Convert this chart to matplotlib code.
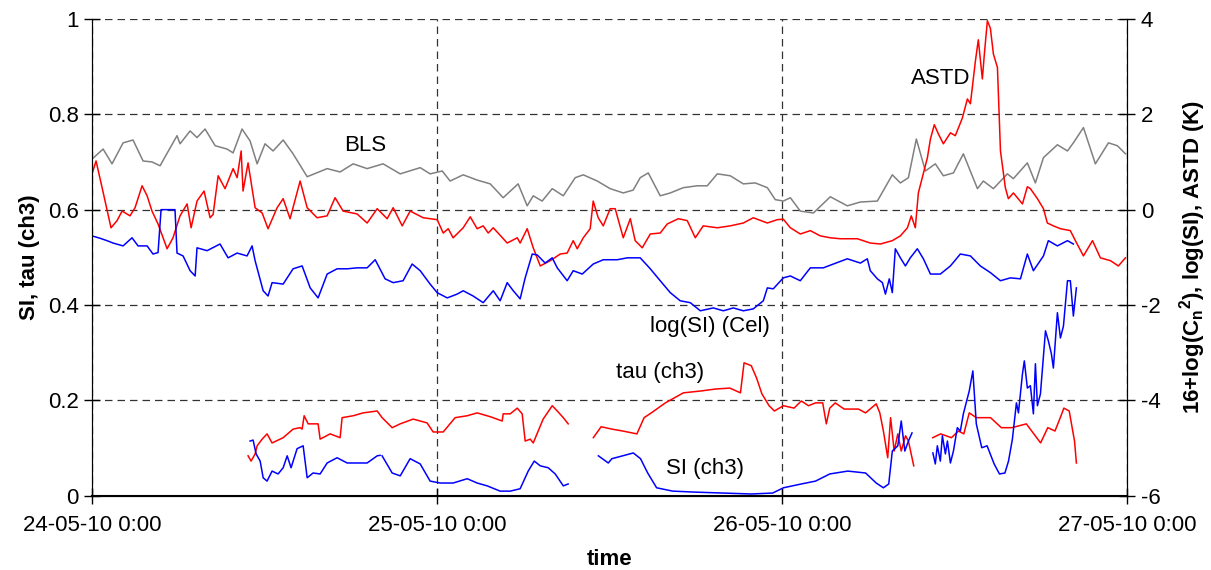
import numpy as np
import matplotlib
matplotlib.use("Agg")
import matplotlib.pyplot as plt

plt.rcParams.update({
    "font.family": ["Liberation Sans", "DejaVu Sans"],
    "font.size": 16,
    "mathtext.fontset": "custom",
    "mathtext.rm": "Liberation Sans",
    "mathtext.bf": "Liberation Sans:bold",
    "axes.unicode_minus": False,
})

nan = np.nan

# hours since 24-05-10 0:00
bls_h = [0.0, 0.77, 1.39, 2.16, 2.85, 3.55, 4.17, 4.73, 5.91, 6.12, 6.82, 7.30, 7.86, 8.56, 9.39, 9.81,
         10.43, 10.99, 11.48, 12.03, 12.59, 13.29, 13.98, 14.96, 16.35, 17.25, 18.16, 19.13, 20.24, 21.43,
         22.82, 23.51, 24.35, 24.90, 25.81, 26.78, 27.69, 28.59, 29.63, 30.26, 30.68, 31.30, 32.00, 32.77,
         33.60, 34.16, 35.13, 36.03, 36.94, 37.63, 38.12, 38.68, 39.51, 40.21, 41.11, 42.09, 42.78, 43.48,
         44.38, 45.29, 46.12, 46.96, 47.51, 48.07, 48.56, 49.25, 50.16, 51.34, 52.52, 53.43, 54.61, 55.65,
         56.21, 56.77, 57.32, 57.95, 58.64, 59.20, 59.90, 60.59, 61.57, 61.98, 62.68, 63.65, 64.07, 65.04,
         65.60, 66.16, 67.13, 67.83, 68.24, 68.94, 69.77, 70.68, 71.30, 71.86]
bls = [1.06, 1.27, 0.96, 1.40, 1.46, 1.02, 1.00, 0.92, 1.55, 1.38, 1.65, 1.51, 1.69, 1.34, 1.27, 1.19,
       1.69, 1.44, 0.96, 1.38, 1.23, 1.46, 1.17, 0.69, 0.86, 0.79, 0.96, 0.86, 0.96, 0.75,
       0.88, 0.75, 0.81, 0.60, 0.73, 0.62, 0.54, 0.25, 0.54, 0.08, 0.29, 0.18, 0.44, 0.29,
       0.67, 0.73, 0.60, 0.44, 0.35, 0.41, 0.67, 0.77, 0.29, 0.35, 0.46, 0.50, 0.50, 0.75,
       0.71, 0.54, 0.56, 0.46, 0.21, 0.18, 0.25, -0.03, -0.07, 0.27, 0.08, 0.16, 0.18, 0.73,
       0.56, 0.67, 1.48, 0.81, 0.96, 0.71, 0.77, 1.17, 0.44, 0.60, 0.44, 0.75, 0.65, 0.98,
       0.56, 1.09, 1.36, 1.23, 1.40, 1.72, 0.96, 1.40, 1.34, 1.17]

astd_h = [0.0, 0.28, 0.70, 1.32, 1.74, 2.09, 2.64, 2.99, 3.48, 3.83, 4.17, 4.59, 5.22, 5.63, 6.12, 6.61,
          6.89, 7.30, 7.79, 8.21, 8.42, 8.77, 9.25, 9.81, 10.09, 10.37, 10.50, 10.85, 11.34, 11.83, 12.24,
          12.87, 13.29, 13.77, 14.47, 14.96, 15.65, 16.35, 16.90, 17.46, 18.43, 19.13, 19.83, 20.52, 20.94,
          21.57, 22.12, 23.03, 23.51, 24.00, 24.42, 24.77, 25.11, 25.81, 26.30, 26.78, 27.20, 27.55, 27.90,
          28.87, 29.57, 29.77, 30.26, 30.68, 31.17, 31.86, 32.56, 33.04, 33.46, 33.74, 34.16, 34.64, 34.85,
          35.20, 35.55, 36.03, 36.38, 36.94, 37.43, 37.77, 38.26, 38.82, 39.51, 40.00, 40.77, 41.39, 41.95,
          42.50, 43.48, 44.38, 45.29, 45.98, 46.96, 47.65, 48.07, 48.56, 49.25, 49.95, 50.64, 51.34, 52.03,
          53.22, 54.12, 54.82, 55.65, 56.21, 56.70, 56.97, 57.25, 57.46, 58.09, 58.30, 58.57, 58.85, 59.20,
          59.69, 60.03, 60.52, 60.87, 61.08, 61.43, 61.63, 61.91, 62.05, 62.26, 62.47, 62.68, 62.96, 63.17,
          63.51, 63.72, 64.07, 64.70, 65.04, 65.25, 65.74, 66.16, 66.43, 66.85, 67.34, 68.03, 68.38, 68.94,
          69.57, 70.12, 70.82, 71.37, 71.86]
astd = [0.75, 1.02, 0.46, -0.38, -0.23, -0.03, -0.13, 0.04, 0.50, 0.29, -0.03, -0.30, -0.82, -0.59, -0.13, 0.12,
        -0.38, 0.18, 0.39, -0.17, -0.10, 0.71, 0.44, 0.86, 0.67, 1.23, 0.39, 0.98, 0.04, -0.07, -0.40,
        0.04, 0.23, -0.19, 0.60, 0.04, -0.17, -0.13, 0.25, -0.03, -0.09, -0.28, 0.02, -0.19, 0.04,
        -0.34, -0.03, -0.17, -0.19, -0.21, -0.49, -0.40, -0.59, -0.38, -0.15, -0.40, -0.34, -0.49, -0.38,
        -0.70, -0.59, -0.70, -0.40, -0.80, -1.18, -1.07, -0.93, -0.91, -0.65, -0.82, -0.59, -0.40, 0.18,
        -0.17, -0.34, 0.02, 0.02, -0.59, -0.19, -0.65, -0.80, -0.51, -0.49, -0.30, -0.19, -0.23, -0.59,
        -0.34, -0.38, -0.34, -0.28, -0.17, -0.28, -0.21, -0.20, -0.38, -0.51, -0.44, -0.55, -0.59, -0.61,
        -0.61, -0.70, -0.72, -0.65, -0.55, -0.38, -0.13, -0.38, 0.35, 1.09, 1.48, 1.78, 1.59, 1.38,
        1.61, 1.55, 1.92, 2.32, 2.22, 3.12, 3.56, 2.74, 3.26, 3.96, 3.80, 3.26, 2.98, 1.23,
        0.46, 0.23, 0.35, 0.12, 0.48, 0.44, 0.23, 0.02, -0.28, -0.34, -0.40, -0.44, -0.65, -0.97,
        -0.65, -1.01, -1.07, -1.18, -1.01]

logsi_h = [0.0, 0.56, 1.04, 1.46, 2.16, 2.78, 3.20, 3.83, 4.24, 4.59, 4.80, 5.77, 5.91, 6.33, 6.82, 7.17,
           7.30, 8.00, 8.90, 9.46, 10.09, 10.78, 11.13, 11.34, 11.90, 12.24, 12.52, 13.29, 13.98, 14.61,
           15.17, 15.72, 16.35, 17.04, 17.74, 18.43, 19.13, 19.69, 20.38, 20.94, 21.63, 22.26, 22.82, 23.51,
           24.00, 24.70, 25.39, 25.81, 26.50, 27.20, 27.90, 28.38, 28.87, 29.29, 29.77, 30.12, 30.61, 30.96,
           31.51, 32.00, 32.35, 33.04, 33.46, 34.09, 34.85, 35.55, 36.52, 37.22, 38.12, 38.82, 39.51, 40.21,
           40.90, 41.60, 42.30, 43.20, 43.90, 44.59, 45.29, 45.98, 46.68, 46.96, 47.37, 48.07, 48.56, 49.25,
           49.95, 50.85, 51.55, 52.52, 53.43, 53.91, 54.12, 54.61, 54.96, 55.17, 55.44, 55.65, 55.86, 56.21,
           56.56, 56.90, 57.39, 57.81, 58.30, 58.99, 59.69, 60.38, 61.08, 61.77, 62.47, 63.17, 63.86, 64.56,
           65.04, 65.46, 66.16, 66.50, 67.13, 67.83, 68.24]
logsi = [-0.55, -0.60, -0.65, -0.70, -0.76, -0.59, -0.76, -0.76, -0.93, -0.90, 0.0, 0.0, -0.91, -0.97, -1.28, -1.39,
         -0.80, -0.86, -0.72, -1.01, -0.91, -0.97, -0.76, -1.07, -1.70, -1.81, -1.53, -1.56, -1.24, -1.18,
         -1.64, -1.85, -1.35, -1.24, -1.24, -1.22, -1.22, -1.05, -1.45, -1.53, -1.49, -1.14, -1.28, -1.56,
         -1.74, -1.85, -1.77, -1.70, -1.81, -1.95, -1.70, -1.91, -1.53, -1.70, -1.87, -1.43, -0.93, -0.95,
         -1.12, -1.01, -1.22, -1.49, -1.28, -1.35, -1.14, -1.05, -1.05, -1.01, -1.01, -1.24, -1.49, -1.74,
         -1.91, -1.95, -2.12, -2.06, -2.12, -2.06, -2.12, -2.08, -1.91, -1.64, -1.66, -1.43, -1.39, -1.49,
         -1.22, -1.22, -1.14, -1.03, -1.12, -1.03, -1.28, -1.45, -1.53, -1.77, -1.45, -1.74, -0.82, -1.01,
         -1.18, -1.01, -0.82, -1.03, -1.35, -1.35, -1.18, -0.93, -0.97, -1.18, -1.32, -1.49, -1.43, -1.45,
         -0.93, -1.28, -0.97, -0.65, -0.76, -0.65, -0.72]

tau_h = [10.85, 11.06, 11.34, 11.48, 11.83, 12.17, 12.52, 13.29, 13.98, 14.47, 14.61, 14.75, 15.03, 15.72,
         15.86, 16.56, 17.25, 17.39, 18.16, 18.85, 19.83, 20.17, 20.87, 21.43, 22.33, 23.30, 23.72, 24.42,
         25.25, 26.09, 26.78, 27.69, 28.52, 28.59, 29.08, 29.57, 29.91, 30.12, 30.47, 30.68, 31.37, 32.00,
         32.35, 32.77, 33.11, 34.0,
         34.86, 35.40, 36.15, 36.90, 37.89, 38.39, 38.89, 39.87, 41.12, 42.36, 43.35, 44.35, 45.09, 45.34,
         45.84, 46.21, 46.58, 47.08, 47.45, 48.08, 48.82, 49.32, 49.82, 50.31, 50.81, 51.06, 51.30, 51.68,
         52.30, 53.29, 53.79, 54.53, 54.78, 55.03, 55.33, 55.53, 55.78, 56.03, 56.27, 56.57, 56.77, 57.14,
         57.8,
         58.46, 59.01, 59.76, 60.25, 60.62, 61.00, 61.49, 62.48, 63.23, 63.97, 64.97, 65.96, 66.46, 66.96,
         67.33, 67.58, 67.95, 68.32, 68.45]
tau = [0.084, 0.073, 0.088, 0.105, 0.119, 0.130, 0.111, 0.122, 0.140, 0.143, 0.140, 0.168, 0.151, 0.151,
       0.119, 0.130, 0.122, 0.164, 0.168, 0.174, 0.178, 0.164, 0.143, 0.151, 0.161, 0.153, 0.134, 0.134,
       0.164, 0.168, 0.174, 0.166, 0.157, 0.172, 0.172, 0.184, 0.172, 0.115, 0.119, 0.111, 0.161, 0.189,
       0.178, 0.164, 0.151, nan,
       0.122, 0.145, 0.140, 0.136, 0.130, 0.164, 0.174, 0.195, 0.216, 0.220, 0.224, 0.226, 0.216, 0.279,
       0.273, 0.247, 0.214, 0.189, 0.178, 0.189, 0.184, 0.199, 0.189, 0.195, 0.195, 0.151, 0.184, 0.195,
       0.182, 0.182, 0.174, 0.193, 0.174, 0.136, 0.080, 0.164, 0.094, 0.130, 0.094, 0.126, 0.115, 0.063,
       nan,
       0.122, 0.130, 0.122, 0.136, 0.130, 0.174, 0.164, 0.164, 0.143, 0.143, 0.151, 0.111, 0.143, 0.136,
       0.164, 0.184, 0.178, 0.115, 0.069]

si_h = [10.99, 11.20, 11.41, 11.69, 11.90, 12.17, 12.52, 12.94, 13.29, 13.57, 13.84, 14.26, 14.68, 14.96,
        15.37, 15.86, 16.35, 17.04, 17.74, 18.43, 19.13, 19.83, 20.03, 20.10,
        20.17, 20.87, 21.43, 22.12, 22.82, 23.51, 24.21, 25.11, 26.09, 26.78, 27.48, 28.38, 29.08, 29.77,
        30.33, 30.75, 31.17, 31.72, 32.21, 32.77, 33.11, 34.0,
        35.21, 35.90, 36.15, 36.90, 37.64, 38.14, 38.64, 39.26, 40.38, 41.86, 43.85, 45.84, 47.33, 48.08,
        49.32, 50.31, 51.30, 52.55, 53.79, 54.53, 55.03, 55.40, 55.65, 56.03, 56.27, 56.52, 56.77, 57.02,
        57.8,
        58.47, 58.64, 58.78, 58.99, 59.13, 59.34, 59.48, 59.69, 59.90, 60.17, 60.38, 60.59, 61.00, 61.25,
        61.49, 61.87, 62.24, 62.73, 63.10, 63.48, 63.73, 64.00, 64.28, 64.42, 64.70, 64.83, 65.04, 65.25,
        65.46, 65.60, 65.74, 65.95, 66.30, 66.50, 66.71, 66.85, 67.13, 67.34, 67.55, 67.83, 68.03, 68.24,
        68.45]
si = [0.115, 0.117, 0.088, 0.073, 0.038, 0.031, 0.052, 0.046, 0.059, 0.084, 0.059, 0.099, 0.105, 0.038,
      0.048, 0.046, 0.069, 0.080, 0.069, 0.069, 0.069, 0.084, 0.085, nan,
      0.084, 0.048, 0.042, 0.078, 0.067, 0.031, 0.027, 0.027, 0.036, 0.027, 0.021, 0.010, 0.010, 0.015,
      0.052, 0.073, 0.063, 0.059, 0.046, 0.021, 0.025, nan,
      0.084, 0.069, 0.078, 0.084, 0.090, 0.078, 0.048, 0.017, 0.010, 0.008, 0.006, 0.004, 0.006, 0.017,
      0.025, 0.031, 0.046, 0.052, 0.048, 0.027, 0.017, 0.025, 0.094, 0.105, 0.157, 0.094, 0.115, 0.132,
      nan,
      0.090, 0.067, 0.105, 0.073, 0.126, 0.088, 0.115, 0.069, 0.094, 0.143, 0.136, 0.172, 0.220, 0.262,
      0.151, 0.101, 0.105, 0.067, 0.046, 0.048, 0.073, 0.119, 0.195, 0.174, 0.256, 0.283, 0.226, 0.231,
      0.172, 0.277, 0.189, 0.214, 0.346, 0.325, 0.298, 0.268, 0.384, 0.331, 0.356, 0.451, 0.451, 0.377,
      0.436]

day_ticks = [0, 24, 48, 72]
day_labels = ["24-05-10 0:00", "25-05-10 0:00", "26-05-10 0:00", "27-05-10 0:00"]

fig, ax = plt.subplots(figsize=(12.11, 5.70), dpi=100)
fig.subplots_adjust(left=0.076, right=0.931, bottom=0.130, top=0.967)
ax2 = ax.twinx()

ax.plot(tau_h, tau, color="#ff0000", lw=1.1)
ax.plot(si_h, si, color="#0000ff", lw=1.1)
ax2.plot(bls_h, bls, color="#808080", lw=1.1)
ax2.plot(astd_h, astd, color="#ff0000", lw=1.1)
ax2.plot(logsi_h, logsi, color="#0000ff", lw=1.1)

ax.set_xlim(0, 72)
ax.set_ylim(0, 1)
ax2.set_ylim(-6, 4)
ax.set_xticks(day_ticks)
ax.set_xticklabels(day_labels)
ax.set_yticks(np.arange(0, 1.01, 0.2))
ax.set_yticklabels(["0", "0.2", "0.4", "0.6", "0.8", "1"])
ax2.set_yticks(np.arange(-6, 4.1, 2))

ax.grid(True, color="#333333", linestyle=(0, (6, 4)), lw=0.9)
ax.set_axisbelow(True)
for a in (ax, ax2):
    a.spines["top"].set_visible(False)
    a.tick_params(direction="inout", length=12, width=1, labelsize=16)
ax.tick_params(axis="x", pad=8)
ax.spines["bottom"].set_linewidth(1.5)

ax.set_xlabel("time", fontweight="bold", labelpad=9)
ax.set_ylabel("SI, tau (ch3)", fontweight="bold", labelpad=6)
ax2.set_ylabel(r"16+log(C$\mathbf{_n}$$\mathbf{^2}$), log(SI), ASTD (K)",
               fontweight="bold", rotation=90, labelpad=12)

ax.text(19.0, 0.734, "BLS", ha="center", va="center")
ax.text(59.0, 0.874, "ASTD", ha="center", va="center")
ax.text(43.0, 0.356, "log(SI) (Cel)", ha="center", va="center")
ax.text(39.5, 0.258, "tau (ch3)", ha="center", va="center")
ax.text(42.6, 0.057, "SI (ch3)", ha="center", va="center")

fig.savefig("out.png", dpi=100)
